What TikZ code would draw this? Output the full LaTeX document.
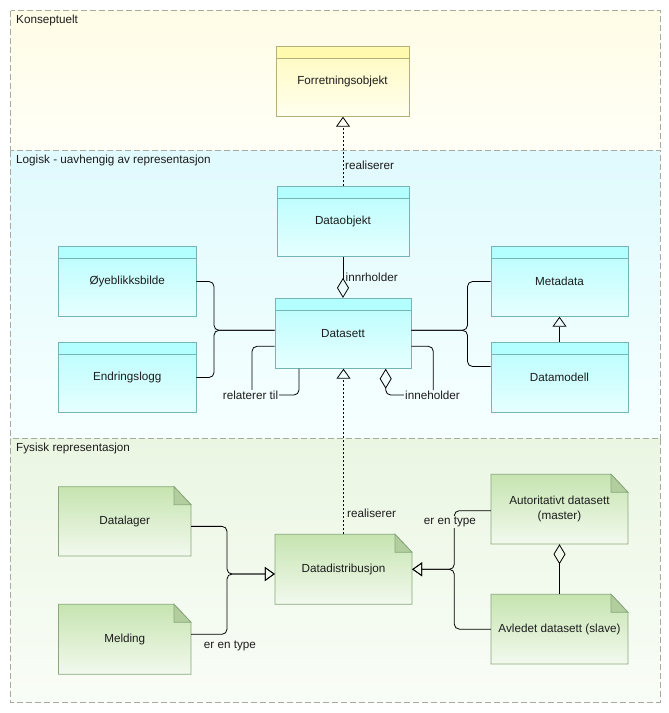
\documentclass[tikz,border=0pt]{standalone}
\usepackage{fontspec}
\setmainfont{Liberation Sans}
\usetikzlibrary{arrows.meta}
\definecolor{kTop}{HTML}{FFFDE6}
\definecolor{kBot}{HTML}{FFFFF7}
\definecolor{lTop}{HTML}{E0FAFD}
\definecolor{lBot}{HTML}{F6FFFF}
\definecolor{fTop}{HTML}{EAF6E2}
\definecolor{fBot}{HTML}{F9FDF7}
\definecolor{frameCol}{HTML}{A8AAA0}
\definecolor{yeborder}{HTML}{B5B07A}
\definecolor{yehdr}{HTML}{FFFAAE}
\definecolor{yetop}{HTML}{FFFABE}
\definecolor{yebot}{HTML}{FFFFEE}
\definecolor{cyborder}{HTML}{76B5B5}
\definecolor{cyhdr}{HTML}{B3FFFF}
\definecolor{cytop}{HTML}{B8FDFD}
\definecolor{cybot}{HTML}{E6FFFF}
\definecolor{grborder}{HTML}{8AA77C}
\definecolor{grtop}{HTML}{C6E4B0}
\definecolor{grbot}{HTML}{F2F9EE}
\definecolor{grfold}{HTML}{B2CE9E}
\definecolor{txt}{HTML}{1C1C1C}
\newcommand\dfont{\fontsize{11.7}{14.6}\selectfont}
\tikzset{
  region/.style={draw=frameCol, line width=0.8pt, dash pattern=on 6pt off 3pt},
  regionlabel/.style={anchor=west, inner sep=0pt, font=\dfont, text=txt},
  cls/.style={rectangle, draw=#1border, line width=0.8pt, top color=#1top, bottom color=#1bot,
    font=\dfont, text=txt, inner sep=0pt,
    path picture={\fill[#1hdr] (path picture bounding box.north west) rectangle ([yshift=-12pt]path picture bounding box.north east);
      \draw[#1border, line width=0.8pt] ([yshift=-12pt]path picture bounding box.north west) -- ([yshift=-12pt]path picture bounding box.north east);}},
  notebody/.style={draw=grborder, line width=0.8pt, top color=grtop, bottom color=grbot},
  notefold/.style={draw=grborder, line width=0.8pt, fill=grfold},
  notetext/.style={rectangle, draw=none, font=\dfont, text=txt, inner sep=0pt, align=center},
  conn/.style={draw=black, line width=0.8pt},
  gentip/.style={-{Triangle[open, length=10pt, width=14pt]}},
  realz/.style={conn, dash pattern=on 2pt off 2pt, gentip},
  lbl/.style={font=\dfont, text=txt, inner sep=1pt},
}
\newcommand\clsbox[7]{\node[cls=#2, minimum width={#5-#3}, minimum height={#6-#4}] (#1) at ({(#3+#5)/2},{(#4+#6)/2}) {#7};}
\newcommand\notebox[6]{%
  \path[notebody] (#2,#3) -- ({#4-17},#3) -- (#4,{#3+18}) -- (#4,#5) -- (#2,#5) -- cycle;
  \path[notefold] ({#4-17},#3) -- ({#4-17},{#3+18}) -- (#4,{#3+18}) -- cycle;
  \node[notetext, minimum width={#4-#2}, minimum height={#5-#3}] (#1) at ({(#2+#4)/2},{(#3+#5)/2}) {#6};}
\begin{document}
\begin{tikzpicture}[x=1pt, y=-1pt]
\useasboundingbox (0,0) rectangle (669,713);
% regions
\path[region, top color=kTop, bottom color=kBot] (10.5,10.5) rectangle (660,150.5);
\path[region, top color=lTop, bottom color=lBot] (10.5,150.5) rectangle (660,438.5);
\path[region, top color=fTop, bottom color=fBot] (10.5,438.5) rectangle (660,702);
\node[regionlabel] (tK) at (16,20) {Konseptuelt};
\node[regionlabel] (tL) at (16,160) {Logisk - uavhengig av representasjon};
\node[regionlabel] (tF) at (16,448) {Fysisk representasjon};
% classes
\clsbox{forr}{ye}{276}{46.7}{409}{116.3}{Forretningsobjekt}
\clsbox{dobj}{cy}{277}{186.5}{409}{256.5}{Dataobjekt}
\clsbox{dset}{cy}{275}{298.3}{411}{368.3}{Datasett}
\clsbox{oyeb}{cy}{58.5}{246.7}{196}{316.3}{Øyeblikksbilde}
\clsbox{endr}{cy}{58.5}{342.7}{196}{412.3}{Endringslogg}
\clsbox{meta}{cy}{491}{246.7}{628}{316.3}{Metadata}
\clsbox{dmod}{cy}{491}{342.7}{628}{412.3}{Datamodell}
% notes
\notebox{dlag}{58.5}{486.7}{191}{556}{Datalager}
\notebox{meld}{58.5}{604.3}{191}{674.3}{Melding}
\notebox{ddist}{275}{534.3}{412}{604.3}{Datadistribusjon}
\notebox{aut}{491}{474.3}{628}{544}{Autoritativt datasett\\(master)}
\notebox{avl}{491}{594.3}{628}{664}{Avledet datasett (slave)}
% coordinates for braces / loops
\coordinate (lb) at (214,330.3);
\coordinate (rb) at (467.5,330.3);
\coordinate (fl) at (227,574);
\coordinate (fr) at (454.3,569.3);
\coordinate (rlc) at (252,395);
\coordinate (inc) at (433.3,395);
% connectors
\draw[realz] (dobj.north) -- (dobj.north |- forr.south);
\draw[conn, -{Diamond[open, length=20pt, width=12pt]}] (dobj.south) -- (dobj.south |- dset.north);
\draw[realz] (ddist.north) -- (ddist.north |- dset.south);
\draw[conn, rounded corners=5pt] (oyeb.east) -| (lb) -- (dset.west |- lb);
\draw[conn, rounded corners=5pt] (endr.east) -| (lb) -- (dset.west |- lb);
\draw[conn, rounded corners=5pt] (meta.west) -| (rb) -- (dset.east |- rb);
\draw[conn, rounded corners=5pt] ([yshift=11pt]dmod.west) -| (rb) -- (dset.east |- rb);
\draw[conn, gentip] (dmod.north) -- (meta.south);
\draw[conn, rounded corners=5pt] ([yshift=-13pt]dset.west) -| (rlc) -| ([xshift=-44pt]dset.south);
\draw[conn, rounded corners=5pt, {Diamond[open, length=20pt, width=12pt]}-] ([xshift=42.7pt]dset.south) |- (inc) |- ([yshift=-13pt]dset.east);
\draw[conn, rounded corners=5pt, gentip] ([yshift=-5pt]dlag.east) -| (fl) -- (ddist.west |- fl);
\draw[conn, rounded corners=5pt, gentip] ([yshift=5pt]meld.east) -| (fl) -- (ddist.west |- fl);
\draw[conn, rounded corners=5pt, gentip] ([yshift=-1.5pt]aut.west) -| (fr) -- (ddist.east |- fr);
\draw[conn, rounded corners=5pt, gentip] (avl.west) -| (fr) -- (ddist.east |- fr);
\draw[conn, -{Diamond[open, length=20pt, width=12pt]}] (avl.north) -- (aut.south);
% labels
\node[lbl, anchor=west] (lr1) at (344,165) {realiserer};
\node[lbl, anchor=west] (lr2) at (346,513) {realiserer};
\node[lbl, anchor=west] (linn) at (344.5,277) {innrholder};
\node[lbl, fill=lTop!15!lBot] (lrel) at (250.5,395) {relaterer til};
\node[lbl, fill=lTop!15!lBot] (linh) at (432.5,395) {inneholder};
\node[lbl] (let1) at (230,646) {er en type};
\node[lbl, fill=fTop!68!fBot] (let2) at (450,522.3) {er en type};
\end{tikzpicture}
\end{document}
